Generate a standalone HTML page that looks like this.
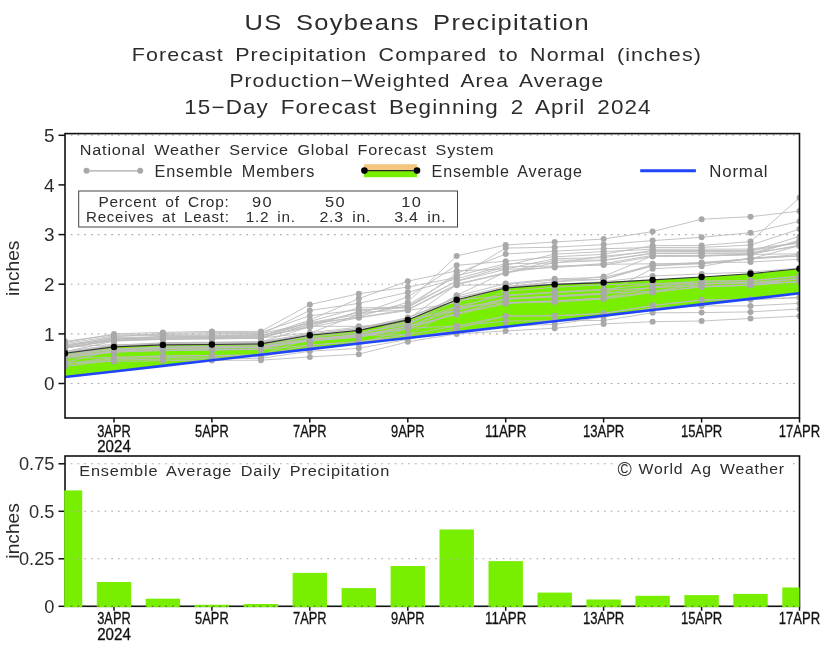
<!DOCTYPE html>
<html lang="en"><head><meta charset="utf-8"><title>US Soybeans Precipitation</title>
<style>html,body{margin:0;padding:0;background:#fff}svg{display:block}</style></head>
<body>
<svg width="830" height="648" viewBox="0 0 830 648">
<rect width="830" height="648" fill="#fff"/>
<polygon fill="#78ee00" points="65.0,353.2 114.0,346.9 162.9,344.9 211.9,344.5 260.9,343.9 309.8,335.2 358.8,330.4 407.8,319.9 456.7,299.8 505.7,288.0 554.7,284.4 603.6,282.6 652.6,279.9 701.6,277.0 750.5,273.7 799.5,268.8 799.5,293.3 750.5,298.9 701.6,304.4 652.6,310.0 603.6,315.6 554.7,321.2 505.7,326.8 456.7,332.4 407.8,338.0 358.8,343.5 309.8,349.1 260.9,354.7 211.9,360.3 162.9,365.9 114.0,371.5 65.0,377.0"/>
<g stroke="#adadad" stroke-width="1.1" stroke-dasharray="1.8 4.95" fill="none">
<path d="M70.7 383.5H798.5"/>
<path d="M70.7 333.9H798.5"/>
<path d="M70.7 284.2H798.5"/>
<path d="M70.7 234.6H798.5"/>
<path d="M70.7 135.3H798.5"/>
</g>
<g stroke="#bcbcbc" stroke-width="0.9" fill="none">
<polyline points="65.0,362.4 114.0,350.2 162.9,346.8 211.9,346.3 260.9,345.8 309.8,340.8 358.8,335.7 407.8,334.6 456.7,325.9 505.7,316.0 554.7,315.9 603.6,313.5 652.6,305.6 701.6,300.1 750.5,299.3 799.5,297.3"/>
<polyline points="65.0,352.2 114.0,350.2 162.9,348.3 211.9,348.2 260.9,347.3 309.8,339.8 358.8,334.4 407.8,320.8 456.7,296.2 505.7,283.6 554.7,278.8 603.6,277.4 652.6,265.7 701.6,262.9 750.5,262.0 799.5,259.2"/>
<polyline points="65.0,362.5 114.0,361.4 162.9,360.7 211.9,360.4 260.9,360.2 309.8,356.9 358.8,354.2 407.8,341.8 456.7,333.9 505.7,330.9 554.7,328.2 603.6,323.9 652.6,321.7 701.6,321.0 750.5,318.5 799.5,316.0"/>
<polyline points="65.0,348.2 114.0,339.7 162.9,339.2 211.9,338.5 260.9,338.0 309.8,332.8 358.8,327.1 407.8,319.4 456.7,310.4 505.7,298.6 554.7,296.0 603.6,293.2 652.6,291.4 701.6,284.0 750.5,282.6 799.5,278.4"/>
<polyline points="65.0,344.9 114.0,337.8 162.9,336.8 211.9,336.3 260.9,336.3 309.8,320.1 358.8,298.5 407.8,281.2 456.7,270.8 505.7,269.0 554.7,258.7 603.6,257.7 652.6,250.6 701.6,250.5 750.5,250.4 799.5,243.0"/>
<polyline points="65.0,366.6 114.0,360.1 162.9,359.1 211.9,358.8 260.9,358.4 309.8,351.2 358.8,348.3 407.8,339.4 456.7,328.6 505.7,315.9 554.7,315.8 603.6,313.3 652.6,305.5 701.6,299.8 750.5,299.7 799.5,297.7"/>
<polyline points="65.0,352.8 114.0,345.4 162.9,343.5 211.9,343.1 260.9,342.6 309.8,334.4 358.8,328.4 407.8,317.5 456.7,297.8 505.7,288.5 554.7,281.9 603.6,279.3 652.6,264.5 701.6,262.4 750.5,258.9 799.5,245.6"/>
<polyline points="65.0,343.7 114.0,335.9 162.9,335.5 211.9,335.0 260.9,334.5 309.8,310.5 358.8,303.4 407.8,292.3 456.7,278.8 505.7,265.4 554.7,254.1 603.6,251.6 652.6,249.3 701.6,249.2 750.5,249.1 799.5,242.7"/>
<polyline points="65.0,346.1 114.0,336.9 162.9,333.4 211.9,332.6 260.9,332.4 309.8,315.8 358.8,309.8 407.8,307.7 456.7,273.4 505.7,254.0 554.7,251.2 603.6,248.7 652.6,247.5 701.6,247.4 750.5,245.1 799.5,229.1"/>
<polyline points="65.0,357.7 114.0,352.3 162.9,350.1 211.9,349.6 260.9,349.1 309.8,339.6 358.8,334.1 407.8,322.7 456.7,306.4 505.7,295.2 554.7,291.9 603.6,289.3 652.6,284.3 701.6,283.4 750.5,282.6 799.5,279.0"/>
<polyline points="65.0,347.2 114.0,344.5 162.9,344.3 211.9,343.8 260.9,343.3 309.8,337.1 358.8,332.5 407.8,324.9 456.7,300.0 505.7,295.8 554.7,292.7 603.6,290.0 652.6,288.1 701.6,283.4 750.5,283.1 799.5,282.1"/>
<polyline points="65.0,341.3 114.0,334.9 162.9,334.5 211.9,333.8 260.9,333.5 309.8,323.3 358.8,317.3 407.8,309.6 456.7,284.0 505.7,272.7 554.7,260.2 603.6,260.1 652.6,253.2 701.6,253.1 750.5,253.0 799.5,241.1"/>
<polyline points="65.0,356.5 114.0,350.5 162.9,350.1 211.9,350.1 260.9,349.6 309.8,345.1 358.8,341.6 407.8,334.6 456.7,309.6 505.7,291.3 554.7,287.2 603.6,284.8 652.6,283.7 701.6,281.4 750.5,281.0 799.5,276.4"/>
<polyline points="65.0,365.2 114.0,358.8 162.9,357.5 211.9,357.1 260.9,356.7 309.8,347.4 358.8,344.2 407.8,328.3 456.7,326.0 505.7,321.0 554.7,320.7 603.6,320.5 652.6,312.8 701.6,312.6 750.5,311.9 799.5,309.0"/>
<polyline points="65.0,352.2 114.0,346.2 162.9,345.1 211.9,344.7 260.9,344.2 309.8,339.6 358.8,336.9 407.8,328.2 456.7,313.3 505.7,302.7 554.7,302.1 603.6,299.1 652.6,292.6 701.6,286.4 750.5,285.5 799.5,281.4"/>
<polyline points="65.0,358.0 114.0,357.5 162.9,356.0 211.9,355.5 260.9,355.0 309.8,345.1 358.8,341.6 407.8,336.9 456.7,331.3 505.7,326.0 554.7,324.4 603.6,317.0 652.6,307.8 701.6,305.9 750.5,305.9 799.5,303.3"/>
<polyline points="65.0,355.2 114.0,349.0 162.9,348.3 211.9,347.8 260.9,347.7 309.8,340.9 358.8,337.2 407.8,328.7 456.7,313.5 505.7,299.4 554.7,297.0 603.6,294.2 652.6,268.7 701.6,266.3 750.5,258.1 799.5,255.8"/>
<polyline points="65.0,346.5 114.0,338.4 162.9,338.0 211.9,337.6 260.9,337.0 309.8,326.3 358.8,326.3 407.8,324.6 456.7,295.3 505.7,272.1 554.7,266.8 603.6,263.6 652.6,255.4 701.6,255.3 750.5,254.3 799.5,245.1"/>
<polyline points="65.0,348.4 114.0,338.8 162.9,338.1 211.9,337.5 260.9,337.1 309.8,327.0 358.8,317.8 407.8,310.5 456.7,302.7 505.7,286.5 554.7,281.8 603.6,276.4 652.6,255.9 701.6,255.8 750.5,254.8 799.5,240.1"/>
<polyline points="65.0,351.7 114.0,341.1 162.9,339.4 211.9,338.7 260.9,338.4 309.8,324.5 358.8,312.4 407.8,310.0 456.7,285.3 505.7,284.6 554.7,279.9 603.6,279.5 652.6,265.9 701.6,263.7 750.5,259.0 799.5,255.9"/>
<polyline points="65.0,348.0 114.0,340.6 162.9,339.0 211.9,338.9 260.9,338.2 309.8,321.5 358.8,307.8 407.8,307.5 456.7,280.9 505.7,266.8 554.7,266.1 603.6,265.1 652.6,256.4 701.6,256.3 750.5,254.5 799.5,253.8"/>
<polyline points="65.0,356.2 114.0,348.7 162.9,347.1 211.9,346.6 260.9,346.1 309.8,341.2 358.8,336.8 407.8,326.3 456.7,309.6 505.7,298.6 554.7,296.0 603.6,293.3 652.6,287.2 701.6,286.3 750.5,284.9 799.5,281.3"/>
<polyline points="65.0,342.5 114.0,333.9 162.9,332.4 211.9,331.4 260.9,331.4 309.8,304.6 358.8,293.7 407.8,287.1 456.7,277.5 505.7,248.1 554.7,247.2 603.6,244.6 652.6,240.6 701.6,237.3 750.5,232.7 799.5,221.3"/>
<polyline points="65.0,345.6 114.0,339.6 162.9,336.2 211.9,335.7 260.9,335.3 309.8,324.7 358.8,316.8 407.8,302.2 456.7,255.9 505.7,245.0 554.7,242.0 603.6,239.0 652.6,231.6 701.6,219.2 750.5,216.7 799.5,211.1"/>
<polyline points="65.0,355.0 114.0,347.1 162.9,343.0 211.9,342.5 260.9,341.7 309.8,333.4 358.8,314.2 407.8,296.9 456.7,265.3 505.7,261.2 554.7,256.8 603.6,254.3 652.6,245.6 701.6,245.5 750.5,241.5 799.5,197.8"/>
<polyline points="65.0,363.8 114.0,357.4 162.9,355.9 211.9,355.4 260.9,355.0 309.8,338.5 358.8,335.4 407.8,326.7 456.7,307.0 505.7,302.6 554.7,300.8 603.6,297.9 652.6,287.2 701.6,280.9 750.5,280.6 799.5,276.0"/>
<polyline points="65.0,353.6 114.0,345.5 162.9,342.7 211.9,342.2 260.9,342.0 309.8,326.7 358.8,311.3 407.8,305.0 456.7,275.8 505.7,263.7 554.7,263.0 603.6,256.2 652.6,251.6 701.6,251.5 750.5,251.4 799.5,236.4"/>
<polyline points="65.0,357.6 114.0,351.9 162.9,350.6 211.9,349.7 260.9,349.2 309.8,338.7 358.8,335.4 407.8,326.3 456.7,314.4 505.7,303.7 554.7,301.0 603.6,298.1 652.6,291.6 701.6,287.1 750.5,285.0 799.5,278.4"/>
<polyline points="65.0,356.2 114.0,351.8 162.9,348.7 211.9,347.8 260.9,347.3 309.8,335.6 358.8,330.3 407.8,318.1 456.7,298.0 505.7,286.3 554.7,284.2 603.6,281.7 652.6,276.0 701.6,273.9 750.5,272.1 799.5,268.0"/>
<polyline points="65.0,351.4 114.0,344.9 162.9,343.6 211.9,343.0 260.9,342.6 309.8,334.3 358.8,328.6 407.8,319.3 456.7,284.6 505.7,273.4 554.7,262.6 603.6,260.5 652.6,253.4 701.6,253.3 750.5,253.2 799.5,246.1"/>
<polyline points="65.0,347.1 114.0,340.9 162.9,337.3 211.9,336.8 260.9,335.8 309.8,322.5 358.8,314.5 407.8,306.0 456.7,281.3 505.7,269.3 554.7,267.5 603.6,264.3 652.6,263.8 701.6,263.7 750.5,258.4 799.5,254.5"/>
</g>
<g fill="#a9a9a9">
<circle cx="65.0" cy="362.4" r="3"/>
<circle cx="114.0" cy="350.2" r="3"/>
<circle cx="162.9" cy="346.8" r="3"/>
<circle cx="211.9" cy="346.3" r="3"/>
<circle cx="260.9" cy="345.8" r="3"/>
<circle cx="309.8" cy="340.8" r="3"/>
<circle cx="358.8" cy="335.7" r="3"/>
<circle cx="407.8" cy="334.6" r="3"/>
<circle cx="456.7" cy="325.9" r="3"/>
<circle cx="505.7" cy="316.0" r="3"/>
<circle cx="554.7" cy="315.9" r="3"/>
<circle cx="603.6" cy="313.5" r="3"/>
<circle cx="652.6" cy="305.6" r="3"/>
<circle cx="701.6" cy="300.1" r="3"/>
<circle cx="750.5" cy="299.3" r="3"/>
<circle cx="799.5" cy="297.3" r="3"/>
<circle cx="65.0" cy="352.2" r="3"/>
<circle cx="114.0" cy="350.2" r="3"/>
<circle cx="162.9" cy="348.3" r="3"/>
<circle cx="211.9" cy="348.2" r="3"/>
<circle cx="260.9" cy="347.3" r="3"/>
<circle cx="309.8" cy="339.8" r="3"/>
<circle cx="358.8" cy="334.4" r="3"/>
<circle cx="407.8" cy="320.8" r="3"/>
<circle cx="456.7" cy="296.2" r="3"/>
<circle cx="505.7" cy="283.6" r="3"/>
<circle cx="554.7" cy="278.8" r="3"/>
<circle cx="603.6" cy="277.4" r="3"/>
<circle cx="652.6" cy="265.7" r="3"/>
<circle cx="701.6" cy="262.9" r="3"/>
<circle cx="750.5" cy="262.0" r="3"/>
<circle cx="799.5" cy="259.2" r="3"/>
<circle cx="65.0" cy="362.5" r="3"/>
<circle cx="114.0" cy="361.4" r="3"/>
<circle cx="162.9" cy="360.7" r="3"/>
<circle cx="211.9" cy="360.4" r="3"/>
<circle cx="260.9" cy="360.2" r="3"/>
<circle cx="309.8" cy="356.9" r="3"/>
<circle cx="358.8" cy="354.2" r="3"/>
<circle cx="407.8" cy="341.8" r="3"/>
<circle cx="456.7" cy="333.9" r="3"/>
<circle cx="505.7" cy="330.9" r="3"/>
<circle cx="554.7" cy="328.2" r="3"/>
<circle cx="603.6" cy="323.9" r="3"/>
<circle cx="652.6" cy="321.7" r="3"/>
<circle cx="701.6" cy="321.0" r="3"/>
<circle cx="750.5" cy="318.5" r="3"/>
<circle cx="799.5" cy="316.0" r="3"/>
<circle cx="65.0" cy="348.2" r="3"/>
<circle cx="114.0" cy="339.7" r="3"/>
<circle cx="162.9" cy="339.2" r="3"/>
<circle cx="211.9" cy="338.5" r="3"/>
<circle cx="260.9" cy="338.0" r="3"/>
<circle cx="309.8" cy="332.8" r="3"/>
<circle cx="358.8" cy="327.1" r="3"/>
<circle cx="407.8" cy="319.4" r="3"/>
<circle cx="456.7" cy="310.4" r="3"/>
<circle cx="505.7" cy="298.6" r="3"/>
<circle cx="554.7" cy="296.0" r="3"/>
<circle cx="603.6" cy="293.2" r="3"/>
<circle cx="652.6" cy="291.4" r="3"/>
<circle cx="701.6" cy="284.0" r="3"/>
<circle cx="750.5" cy="282.6" r="3"/>
<circle cx="799.5" cy="278.4" r="3"/>
<circle cx="65.0" cy="344.9" r="3"/>
<circle cx="114.0" cy="337.8" r="3"/>
<circle cx="162.9" cy="336.8" r="3"/>
<circle cx="211.9" cy="336.3" r="3"/>
<circle cx="260.9" cy="336.3" r="3"/>
<circle cx="309.8" cy="320.1" r="3"/>
<circle cx="358.8" cy="298.5" r="3"/>
<circle cx="407.8" cy="281.2" r="3"/>
<circle cx="456.7" cy="270.8" r="3"/>
<circle cx="505.7" cy="269.0" r="3"/>
<circle cx="554.7" cy="258.7" r="3"/>
<circle cx="603.6" cy="257.7" r="3"/>
<circle cx="652.6" cy="250.6" r="3"/>
<circle cx="701.6" cy="250.5" r="3"/>
<circle cx="750.5" cy="250.4" r="3"/>
<circle cx="799.5" cy="243.0" r="3"/>
<circle cx="65.0" cy="366.6" r="3"/>
<circle cx="114.0" cy="360.1" r="3"/>
<circle cx="162.9" cy="359.1" r="3"/>
<circle cx="211.9" cy="358.8" r="3"/>
<circle cx="260.9" cy="358.4" r="3"/>
<circle cx="309.8" cy="351.2" r="3"/>
<circle cx="358.8" cy="348.3" r="3"/>
<circle cx="407.8" cy="339.4" r="3"/>
<circle cx="456.7" cy="328.6" r="3"/>
<circle cx="505.7" cy="315.9" r="3"/>
<circle cx="554.7" cy="315.8" r="3"/>
<circle cx="603.6" cy="313.3" r="3"/>
<circle cx="652.6" cy="305.5" r="3"/>
<circle cx="701.6" cy="299.8" r="3"/>
<circle cx="750.5" cy="299.7" r="3"/>
<circle cx="799.5" cy="297.7" r="3"/>
<circle cx="65.0" cy="352.8" r="3"/>
<circle cx="114.0" cy="345.4" r="3"/>
<circle cx="162.9" cy="343.5" r="3"/>
<circle cx="211.9" cy="343.1" r="3"/>
<circle cx="260.9" cy="342.6" r="3"/>
<circle cx="309.8" cy="334.4" r="3"/>
<circle cx="358.8" cy="328.4" r="3"/>
<circle cx="407.8" cy="317.5" r="3"/>
<circle cx="456.7" cy="297.8" r="3"/>
<circle cx="505.7" cy="288.5" r="3"/>
<circle cx="554.7" cy="281.9" r="3"/>
<circle cx="603.6" cy="279.3" r="3"/>
<circle cx="652.6" cy="264.5" r="3"/>
<circle cx="701.6" cy="262.4" r="3"/>
<circle cx="750.5" cy="258.9" r="3"/>
<circle cx="799.5" cy="245.6" r="3"/>
<circle cx="65.0" cy="343.7" r="3"/>
<circle cx="114.0" cy="335.9" r="3"/>
<circle cx="162.9" cy="335.5" r="3"/>
<circle cx="211.9" cy="335.0" r="3"/>
<circle cx="260.9" cy="334.5" r="3"/>
<circle cx="309.8" cy="310.5" r="3"/>
<circle cx="358.8" cy="303.4" r="3"/>
<circle cx="407.8" cy="292.3" r="3"/>
<circle cx="456.7" cy="278.8" r="3"/>
<circle cx="505.7" cy="265.4" r="3"/>
<circle cx="554.7" cy="254.1" r="3"/>
<circle cx="603.6" cy="251.6" r="3"/>
<circle cx="652.6" cy="249.3" r="3"/>
<circle cx="701.6" cy="249.2" r="3"/>
<circle cx="750.5" cy="249.1" r="3"/>
<circle cx="799.5" cy="242.7" r="3"/>
<circle cx="65.0" cy="346.1" r="3"/>
<circle cx="114.0" cy="336.9" r="3"/>
<circle cx="162.9" cy="333.4" r="3"/>
<circle cx="211.9" cy="332.6" r="3"/>
<circle cx="260.9" cy="332.4" r="3"/>
<circle cx="309.8" cy="315.8" r="3"/>
<circle cx="358.8" cy="309.8" r="3"/>
<circle cx="407.8" cy="307.7" r="3"/>
<circle cx="456.7" cy="273.4" r="3"/>
<circle cx="505.7" cy="254.0" r="3"/>
<circle cx="554.7" cy="251.2" r="3"/>
<circle cx="603.6" cy="248.7" r="3"/>
<circle cx="652.6" cy="247.5" r="3"/>
<circle cx="701.6" cy="247.4" r="3"/>
<circle cx="750.5" cy="245.1" r="3"/>
<circle cx="799.5" cy="229.1" r="3"/>
<circle cx="65.0" cy="357.7" r="3"/>
<circle cx="114.0" cy="352.3" r="3"/>
<circle cx="162.9" cy="350.1" r="3"/>
<circle cx="211.9" cy="349.6" r="3"/>
<circle cx="260.9" cy="349.1" r="3"/>
<circle cx="309.8" cy="339.6" r="3"/>
<circle cx="358.8" cy="334.1" r="3"/>
<circle cx="407.8" cy="322.7" r="3"/>
<circle cx="456.7" cy="306.4" r="3"/>
<circle cx="505.7" cy="295.2" r="3"/>
<circle cx="554.7" cy="291.9" r="3"/>
<circle cx="603.6" cy="289.3" r="3"/>
<circle cx="652.6" cy="284.3" r="3"/>
<circle cx="701.6" cy="283.4" r="3"/>
<circle cx="750.5" cy="282.6" r="3"/>
<circle cx="799.5" cy="279.0" r="3"/>
<circle cx="65.0" cy="347.2" r="3"/>
<circle cx="114.0" cy="344.5" r="3"/>
<circle cx="162.9" cy="344.3" r="3"/>
<circle cx="211.9" cy="343.8" r="3"/>
<circle cx="260.9" cy="343.3" r="3"/>
<circle cx="309.8" cy="337.1" r="3"/>
<circle cx="358.8" cy="332.5" r="3"/>
<circle cx="407.8" cy="324.9" r="3"/>
<circle cx="456.7" cy="300.0" r="3"/>
<circle cx="505.7" cy="295.8" r="3"/>
<circle cx="554.7" cy="292.7" r="3"/>
<circle cx="603.6" cy="290.0" r="3"/>
<circle cx="652.6" cy="288.1" r="3"/>
<circle cx="701.6" cy="283.4" r="3"/>
<circle cx="750.5" cy="283.1" r="3"/>
<circle cx="799.5" cy="282.1" r="3"/>
<circle cx="65.0" cy="341.3" r="3"/>
<circle cx="114.0" cy="334.9" r="3"/>
<circle cx="162.9" cy="334.5" r="3"/>
<circle cx="211.9" cy="333.8" r="3"/>
<circle cx="260.9" cy="333.5" r="3"/>
<circle cx="309.8" cy="323.3" r="3"/>
<circle cx="358.8" cy="317.3" r="3"/>
<circle cx="407.8" cy="309.6" r="3"/>
<circle cx="456.7" cy="284.0" r="3"/>
<circle cx="505.7" cy="272.7" r="3"/>
<circle cx="554.7" cy="260.2" r="3"/>
<circle cx="603.6" cy="260.1" r="3"/>
<circle cx="652.6" cy="253.2" r="3"/>
<circle cx="701.6" cy="253.1" r="3"/>
<circle cx="750.5" cy="253.0" r="3"/>
<circle cx="799.5" cy="241.1" r="3"/>
<circle cx="65.0" cy="356.5" r="3"/>
<circle cx="114.0" cy="350.5" r="3"/>
<circle cx="162.9" cy="350.1" r="3"/>
<circle cx="211.9" cy="350.1" r="3"/>
<circle cx="260.9" cy="349.6" r="3"/>
<circle cx="309.8" cy="345.1" r="3"/>
<circle cx="358.8" cy="341.6" r="3"/>
<circle cx="407.8" cy="334.6" r="3"/>
<circle cx="456.7" cy="309.6" r="3"/>
<circle cx="505.7" cy="291.3" r="3"/>
<circle cx="554.7" cy="287.2" r="3"/>
<circle cx="603.6" cy="284.8" r="3"/>
<circle cx="652.6" cy="283.7" r="3"/>
<circle cx="701.6" cy="281.4" r="3"/>
<circle cx="750.5" cy="281.0" r="3"/>
<circle cx="799.5" cy="276.4" r="3"/>
<circle cx="65.0" cy="365.2" r="3"/>
<circle cx="114.0" cy="358.8" r="3"/>
<circle cx="162.9" cy="357.5" r="3"/>
<circle cx="211.9" cy="357.1" r="3"/>
<circle cx="260.9" cy="356.7" r="3"/>
<circle cx="309.8" cy="347.4" r="3"/>
<circle cx="358.8" cy="344.2" r="3"/>
<circle cx="407.8" cy="328.3" r="3"/>
<circle cx="456.7" cy="326.0" r="3"/>
<circle cx="505.7" cy="321.0" r="3"/>
<circle cx="554.7" cy="320.7" r="3"/>
<circle cx="603.6" cy="320.5" r="3"/>
<circle cx="652.6" cy="312.8" r="3"/>
<circle cx="701.6" cy="312.6" r="3"/>
<circle cx="750.5" cy="311.9" r="3"/>
<circle cx="799.5" cy="309.0" r="3"/>
<circle cx="65.0" cy="352.2" r="3"/>
<circle cx="114.0" cy="346.2" r="3"/>
<circle cx="162.9" cy="345.1" r="3"/>
<circle cx="211.9" cy="344.7" r="3"/>
<circle cx="260.9" cy="344.2" r="3"/>
<circle cx="309.8" cy="339.6" r="3"/>
<circle cx="358.8" cy="336.9" r="3"/>
<circle cx="407.8" cy="328.2" r="3"/>
<circle cx="456.7" cy="313.3" r="3"/>
<circle cx="505.7" cy="302.7" r="3"/>
<circle cx="554.7" cy="302.1" r="3"/>
<circle cx="603.6" cy="299.1" r="3"/>
<circle cx="652.6" cy="292.6" r="3"/>
<circle cx="701.6" cy="286.4" r="3"/>
<circle cx="750.5" cy="285.5" r="3"/>
<circle cx="799.5" cy="281.4" r="3"/>
<circle cx="65.0" cy="358.0" r="3"/>
<circle cx="114.0" cy="357.5" r="3"/>
<circle cx="162.9" cy="356.0" r="3"/>
<circle cx="211.9" cy="355.5" r="3"/>
<circle cx="260.9" cy="355.0" r="3"/>
<circle cx="309.8" cy="345.1" r="3"/>
<circle cx="358.8" cy="341.6" r="3"/>
<circle cx="407.8" cy="336.9" r="3"/>
<circle cx="456.7" cy="331.3" r="3"/>
<circle cx="505.7" cy="326.0" r="3"/>
<circle cx="554.7" cy="324.4" r="3"/>
<circle cx="603.6" cy="317.0" r="3"/>
<circle cx="652.6" cy="307.8" r="3"/>
<circle cx="701.6" cy="305.9" r="3"/>
<circle cx="750.5" cy="305.9" r="3"/>
<circle cx="799.5" cy="303.3" r="3"/>
<circle cx="65.0" cy="355.2" r="3"/>
<circle cx="114.0" cy="349.0" r="3"/>
<circle cx="162.9" cy="348.3" r="3"/>
<circle cx="211.9" cy="347.8" r="3"/>
<circle cx="260.9" cy="347.7" r="3"/>
<circle cx="309.8" cy="340.9" r="3"/>
<circle cx="358.8" cy="337.2" r="3"/>
<circle cx="407.8" cy="328.7" r="3"/>
<circle cx="456.7" cy="313.5" r="3"/>
<circle cx="505.7" cy="299.4" r="3"/>
<circle cx="554.7" cy="297.0" r="3"/>
<circle cx="603.6" cy="294.2" r="3"/>
<circle cx="652.6" cy="268.7" r="3"/>
<circle cx="701.6" cy="266.3" r="3"/>
<circle cx="750.5" cy="258.1" r="3"/>
<circle cx="799.5" cy="255.8" r="3"/>
<circle cx="65.0" cy="346.5" r="3"/>
<circle cx="114.0" cy="338.4" r="3"/>
<circle cx="162.9" cy="338.0" r="3"/>
<circle cx="211.9" cy="337.6" r="3"/>
<circle cx="260.9" cy="337.0" r="3"/>
<circle cx="309.8" cy="326.3" r="3"/>
<circle cx="358.8" cy="326.3" r="3"/>
<circle cx="407.8" cy="324.6" r="3"/>
<circle cx="456.7" cy="295.3" r="3"/>
<circle cx="505.7" cy="272.1" r="3"/>
<circle cx="554.7" cy="266.8" r="3"/>
<circle cx="603.6" cy="263.6" r="3"/>
<circle cx="652.6" cy="255.4" r="3"/>
<circle cx="701.6" cy="255.3" r="3"/>
<circle cx="750.5" cy="254.3" r="3"/>
<circle cx="799.5" cy="245.1" r="3"/>
<circle cx="65.0" cy="348.4" r="3"/>
<circle cx="114.0" cy="338.8" r="3"/>
<circle cx="162.9" cy="338.1" r="3"/>
<circle cx="211.9" cy="337.5" r="3"/>
<circle cx="260.9" cy="337.1" r="3"/>
<circle cx="309.8" cy="327.0" r="3"/>
<circle cx="358.8" cy="317.8" r="3"/>
<circle cx="407.8" cy="310.5" r="3"/>
<circle cx="456.7" cy="302.7" r="3"/>
<circle cx="505.7" cy="286.5" r="3"/>
<circle cx="554.7" cy="281.8" r="3"/>
<circle cx="603.6" cy="276.4" r="3"/>
<circle cx="652.6" cy="255.9" r="3"/>
<circle cx="701.6" cy="255.8" r="3"/>
<circle cx="750.5" cy="254.8" r="3"/>
<circle cx="799.5" cy="240.1" r="3"/>
<circle cx="65.0" cy="351.7" r="3"/>
<circle cx="114.0" cy="341.1" r="3"/>
<circle cx="162.9" cy="339.4" r="3"/>
<circle cx="211.9" cy="338.7" r="3"/>
<circle cx="260.9" cy="338.4" r="3"/>
<circle cx="309.8" cy="324.5" r="3"/>
<circle cx="358.8" cy="312.4" r="3"/>
<circle cx="407.8" cy="310.0" r="3"/>
<circle cx="456.7" cy="285.3" r="3"/>
<circle cx="505.7" cy="284.6" r="3"/>
<circle cx="554.7" cy="279.9" r="3"/>
<circle cx="603.6" cy="279.5" r="3"/>
<circle cx="652.6" cy="265.9" r="3"/>
<circle cx="701.6" cy="263.7" r="3"/>
<circle cx="750.5" cy="259.0" r="3"/>
<circle cx="799.5" cy="255.9" r="3"/>
<circle cx="65.0" cy="348.0" r="3"/>
<circle cx="114.0" cy="340.6" r="3"/>
<circle cx="162.9" cy="339.0" r="3"/>
<circle cx="211.9" cy="338.9" r="3"/>
<circle cx="260.9" cy="338.2" r="3"/>
<circle cx="309.8" cy="321.5" r="3"/>
<circle cx="358.8" cy="307.8" r="3"/>
<circle cx="407.8" cy="307.5" r="3"/>
<circle cx="456.7" cy="280.9" r="3"/>
<circle cx="505.7" cy="266.8" r="3"/>
<circle cx="554.7" cy="266.1" r="3"/>
<circle cx="603.6" cy="265.1" r="3"/>
<circle cx="652.6" cy="256.4" r="3"/>
<circle cx="701.6" cy="256.3" r="3"/>
<circle cx="750.5" cy="254.5" r="3"/>
<circle cx="799.5" cy="253.8" r="3"/>
<circle cx="65.0" cy="356.2" r="3"/>
<circle cx="114.0" cy="348.7" r="3"/>
<circle cx="162.9" cy="347.1" r="3"/>
<circle cx="211.9" cy="346.6" r="3"/>
<circle cx="260.9" cy="346.1" r="3"/>
<circle cx="309.8" cy="341.2" r="3"/>
<circle cx="358.8" cy="336.8" r="3"/>
<circle cx="407.8" cy="326.3" r="3"/>
<circle cx="456.7" cy="309.6" r="3"/>
<circle cx="505.7" cy="298.6" r="3"/>
<circle cx="554.7" cy="296.0" r="3"/>
<circle cx="603.6" cy="293.3" r="3"/>
<circle cx="652.6" cy="287.2" r="3"/>
<circle cx="701.6" cy="286.3" r="3"/>
<circle cx="750.5" cy="284.9" r="3"/>
<circle cx="799.5" cy="281.3" r="3"/>
<circle cx="65.0" cy="342.5" r="3"/>
<circle cx="114.0" cy="333.9" r="3"/>
<circle cx="162.9" cy="332.4" r="3"/>
<circle cx="211.9" cy="331.4" r="3"/>
<circle cx="260.9" cy="331.4" r="3"/>
<circle cx="309.8" cy="304.6" r="3"/>
<circle cx="358.8" cy="293.7" r="3"/>
<circle cx="407.8" cy="287.1" r="3"/>
<circle cx="456.7" cy="277.5" r="3"/>
<circle cx="505.7" cy="248.1" r="3"/>
<circle cx="554.7" cy="247.2" r="3"/>
<circle cx="603.6" cy="244.6" r="3"/>
<circle cx="652.6" cy="240.6" r="3"/>
<circle cx="701.6" cy="237.3" r="3"/>
<circle cx="750.5" cy="232.7" r="3"/>
<circle cx="799.5" cy="221.3" r="3"/>
<circle cx="65.0" cy="345.6" r="3"/>
<circle cx="114.0" cy="339.6" r="3"/>
<circle cx="162.9" cy="336.2" r="3"/>
<circle cx="211.9" cy="335.7" r="3"/>
<circle cx="260.9" cy="335.3" r="3"/>
<circle cx="309.8" cy="324.7" r="3"/>
<circle cx="358.8" cy="316.8" r="3"/>
<circle cx="407.8" cy="302.2" r="3"/>
<circle cx="456.7" cy="255.9" r="3"/>
<circle cx="505.7" cy="245.0" r="3"/>
<circle cx="554.7" cy="242.0" r="3"/>
<circle cx="603.6" cy="239.0" r="3"/>
<circle cx="652.6" cy="231.6" r="3"/>
<circle cx="701.6" cy="219.2" r="3"/>
<circle cx="750.5" cy="216.7" r="3"/>
<circle cx="799.5" cy="211.1" r="3"/>
<circle cx="65.0" cy="355.0" r="3"/>
<circle cx="114.0" cy="347.1" r="3"/>
<circle cx="162.9" cy="343.0" r="3"/>
<circle cx="211.9" cy="342.5" r="3"/>
<circle cx="260.9" cy="341.7" r="3"/>
<circle cx="309.8" cy="333.4" r="3"/>
<circle cx="358.8" cy="314.2" r="3"/>
<circle cx="407.8" cy="296.9" r="3"/>
<circle cx="456.7" cy="265.3" r="3"/>
<circle cx="505.7" cy="261.2" r="3"/>
<circle cx="554.7" cy="256.8" r="3"/>
<circle cx="603.6" cy="254.3" r="3"/>
<circle cx="652.6" cy="245.6" r="3"/>
<circle cx="701.6" cy="245.5" r="3"/>
<circle cx="750.5" cy="241.5" r="3"/>
<circle cx="799.5" cy="197.8" r="3"/>
<circle cx="65.0" cy="363.8" r="3"/>
<circle cx="114.0" cy="357.4" r="3"/>
<circle cx="162.9" cy="355.9" r="3"/>
<circle cx="211.9" cy="355.4" r="3"/>
<circle cx="260.9" cy="355.0" r="3"/>
<circle cx="309.8" cy="338.5" r="3"/>
<circle cx="358.8" cy="335.4" r="3"/>
<circle cx="407.8" cy="326.7" r="3"/>
<circle cx="456.7" cy="307.0" r="3"/>
<circle cx="505.7" cy="302.6" r="3"/>
<circle cx="554.7" cy="300.8" r="3"/>
<circle cx="603.6" cy="297.9" r="3"/>
<circle cx="652.6" cy="287.2" r="3"/>
<circle cx="701.6" cy="280.9" r="3"/>
<circle cx="750.5" cy="280.6" r="3"/>
<circle cx="799.5" cy="276.0" r="3"/>
<circle cx="65.0" cy="353.6" r="3"/>
<circle cx="114.0" cy="345.5" r="3"/>
<circle cx="162.9" cy="342.7" r="3"/>
<circle cx="211.9" cy="342.2" r="3"/>
<circle cx="260.9" cy="342.0" r="3"/>
<circle cx="309.8" cy="326.7" r="3"/>
<circle cx="358.8" cy="311.3" r="3"/>
<circle cx="407.8" cy="305.0" r="3"/>
<circle cx="456.7" cy="275.8" r="3"/>
<circle cx="505.7" cy="263.7" r="3"/>
<circle cx="554.7" cy="263.0" r="3"/>
<circle cx="603.6" cy="256.2" r="3"/>
<circle cx="652.6" cy="251.6" r="3"/>
<circle cx="701.6" cy="251.5" r="3"/>
<circle cx="750.5" cy="251.4" r="3"/>
<circle cx="799.5" cy="236.4" r="3"/>
<circle cx="65.0" cy="357.6" r="3"/>
<circle cx="114.0" cy="351.9" r="3"/>
<circle cx="162.9" cy="350.6" r="3"/>
<circle cx="211.9" cy="349.7" r="3"/>
<circle cx="260.9" cy="349.2" r="3"/>
<circle cx="309.8" cy="338.7" r="3"/>
<circle cx="358.8" cy="335.4" r="3"/>
<circle cx="407.8" cy="326.3" r="3"/>
<circle cx="456.7" cy="314.4" r="3"/>
<circle cx="505.7" cy="303.7" r="3"/>
<circle cx="554.7" cy="301.0" r="3"/>
<circle cx="603.6" cy="298.1" r="3"/>
<circle cx="652.6" cy="291.6" r="3"/>
<circle cx="701.6" cy="287.1" r="3"/>
<circle cx="750.5" cy="285.0" r="3"/>
<circle cx="799.5" cy="278.4" r="3"/>
<circle cx="65.0" cy="356.2" r="3"/>
<circle cx="114.0" cy="351.8" r="3"/>
<circle cx="162.9" cy="348.7" r="3"/>
<circle cx="211.9" cy="347.8" r="3"/>
<circle cx="260.9" cy="347.3" r="3"/>
<circle cx="309.8" cy="335.6" r="3"/>
<circle cx="358.8" cy="330.3" r="3"/>
<circle cx="407.8" cy="318.1" r="3"/>
<circle cx="456.7" cy="298.0" r="3"/>
<circle cx="505.7" cy="286.3" r="3"/>
<circle cx="554.7" cy="284.2" r="3"/>
<circle cx="603.6" cy="281.7" r="3"/>
<circle cx="652.6" cy="276.0" r="3"/>
<circle cx="701.6" cy="273.9" r="3"/>
<circle cx="750.5" cy="272.1" r="3"/>
<circle cx="799.5" cy="268.0" r="3"/>
<circle cx="65.0" cy="351.4" r="3"/>
<circle cx="114.0" cy="344.9" r="3"/>
<circle cx="162.9" cy="343.6" r="3"/>
<circle cx="211.9" cy="343.0" r="3"/>
<circle cx="260.9" cy="342.6" r="3"/>
<circle cx="309.8" cy="334.3" r="3"/>
<circle cx="358.8" cy="328.6" r="3"/>
<circle cx="407.8" cy="319.3" r="3"/>
<circle cx="456.7" cy="284.6" r="3"/>
<circle cx="505.7" cy="273.4" r="3"/>
<circle cx="554.7" cy="262.6" r="3"/>
<circle cx="603.6" cy="260.5" r="3"/>
<circle cx="652.6" cy="253.4" r="3"/>
<circle cx="701.6" cy="253.3" r="3"/>
<circle cx="750.5" cy="253.2" r="3"/>
<circle cx="799.5" cy="246.1" r="3"/>
<circle cx="65.0" cy="347.1" r="3"/>
<circle cx="114.0" cy="340.9" r="3"/>
<circle cx="162.9" cy="337.3" r="3"/>
<circle cx="211.9" cy="336.8" r="3"/>
<circle cx="260.9" cy="335.8" r="3"/>
<circle cx="309.8" cy="322.5" r="3"/>
<circle cx="358.8" cy="314.5" r="3"/>
<circle cx="407.8" cy="306.0" r="3"/>
<circle cx="456.7" cy="281.3" r="3"/>
<circle cx="505.7" cy="269.3" r="3"/>
<circle cx="554.7" cy="267.5" r="3"/>
<circle cx="603.6" cy="264.3" r="3"/>
<circle cx="652.6" cy="263.8" r="3"/>
<circle cx="701.6" cy="263.7" r="3"/>
<circle cx="750.5" cy="258.4" r="3"/>
<circle cx="799.5" cy="254.5" r="3"/>
</g>
<polyline fill="none" stroke="#2044fb" stroke-width="2.6" points="65.0,377.0 114.0,371.5 162.9,365.9 211.9,360.3 260.9,354.7 309.8,349.1 358.8,343.5 407.8,338.0 456.7,332.4 505.7,326.8 554.7,321.2 603.6,315.6 652.6,310.0 701.6,304.4 750.5,298.9 799.5,293.3"/>
<polyline fill="none" stroke="#333" stroke-width="1.1" points="65.0,353.2 114.0,346.9 162.9,344.9 211.9,344.5 260.9,343.9 309.8,335.2 358.8,330.4 407.8,319.9 456.7,299.8 505.7,288.0 554.7,284.4 603.6,282.6 652.6,279.9 701.6,277.0 750.5,273.7 799.5,268.8"/>
<g fill="#000">
<circle cx="65.0" cy="353.2" r="3.2"/>
<circle cx="114.0" cy="346.9" r="3.2"/>
<circle cx="162.9" cy="344.9" r="3.2"/>
<circle cx="211.9" cy="344.5" r="3.2"/>
<circle cx="260.9" cy="343.9" r="3.2"/>
<circle cx="309.8" cy="335.2" r="3.2"/>
<circle cx="358.8" cy="330.4" r="3.2"/>
<circle cx="407.8" cy="319.9" r="3.2"/>
<circle cx="456.7" cy="299.8" r="3.2"/>
<circle cx="505.7" cy="288.0" r="3.2"/>
<circle cx="554.7" cy="284.4" r="3.2"/>
<circle cx="603.6" cy="282.6" r="3.2"/>
<circle cx="652.6" cy="279.9" r="3.2"/>
<circle cx="701.6" cy="277.0" r="3.2"/>
<circle cx="750.5" cy="273.7" r="3.2"/>
<circle cx="799.5" cy="268.8" r="3.2"/>
</g>
<rect x="799.5" y="133.6" width="8" height="284.4" fill="#fff"/>
<rect x="57.0" y="133.6" width="8" height="284.4" fill="#fff"/>
<rect x="65.0" y="133.6" width="734.5" height="284.4" fill="none" stroke="#111" stroke-width="1.6"/>
<g stroke="#111" stroke-width="1.5">
<path d="M58.5 383.5H65.0"/>
<path d="M58.5 333.9H65.0"/>
<path d="M58.5 284.2H65.0"/>
<path d="M58.5 234.6H65.0"/>
<path d="M58.5 184.9H65.0"/>
<path d="M58.5 135.3H65.0"/>
<path d="M114.0 418.0V422.5"/>
<path d="M114.0 606.3V610.8"/>
<path d="M211.9 418.0V422.5"/>
<path d="M211.9 606.3V610.8"/>
<path d="M309.8 418.0V422.5"/>
<path d="M309.8 606.3V610.8"/>
<path d="M407.8 418.0V422.5"/>
<path d="M407.8 606.3V610.8"/>
<path d="M505.7 418.0V422.5"/>
<path d="M505.7 606.3V610.8"/>
<path d="M603.6 418.0V422.5"/>
<path d="M603.6 606.3V610.8"/>
<path d="M701.6 418.0V422.5"/>
<path d="M701.6 606.3V610.8"/>
<path d="M799.5 418.0V422.5"/>
<path d="M799.5 606.3V610.8"/>
<path d="M58.5 606.3H65.0"/>
<path d="M58.5 558.8H65.0"/>
<path d="M58.5 511.3H65.0"/>
<path d="M58.5 463.8H65.0"/>
</g>
<g font-family="'Liberation Sans', sans-serif" fill="#2c2c2c" text-anchor="end">
<text x="54.6" y="390.2" font-size="18.9">0</text>
<text x="54.6" y="340.6" font-size="18.9">1</text>
<text x="54.6" y="290.9" font-size="18.9">2</text>
<text x="54.6" y="241.3" font-size="18.9">3</text>
<text x="54.6" y="191.6" font-size="18.9">4</text>
<text x="54.6" y="142.0" font-size="18.9">5</text>
<text x="54.4" y="612.8" font-size="18.2">0</text>
<text x="54.4" y="565.3" font-size="18.2">0.25</text>
<text x="54.4" y="517.8" font-size="18.2">0.5</text>
<text x="54.4" y="470.3" font-size="18.2">0.75</text>
</g>
<g font-family="'Liberation Sans', sans-serif" font-size="16.2" text-anchor="middle" fill="#111" stroke="#111" stroke-width="0.3">
<text x="114.0" y="436.6" textLength="33.6" lengthAdjust="spacingAndGlyphs">3APR</text>
<text x="114.0" y="624.1" textLength="33.6" lengthAdjust="spacingAndGlyphs">3APR</text>
<text x="211.9" y="436.6" textLength="33.6" lengthAdjust="spacingAndGlyphs">5APR</text>
<text x="211.9" y="624.1" textLength="33.6" lengthAdjust="spacingAndGlyphs">5APR</text>
<text x="309.8" y="436.6" textLength="33.6" lengthAdjust="spacingAndGlyphs">7APR</text>
<text x="309.8" y="624.1" textLength="33.6" lengthAdjust="spacingAndGlyphs">7APR</text>
<text x="407.8" y="436.6" textLength="33.6" lengthAdjust="spacingAndGlyphs">9APR</text>
<text x="407.8" y="624.1" textLength="33.6" lengthAdjust="spacingAndGlyphs">9APR</text>
<text x="505.7" y="436.6" textLength="41.4" lengthAdjust="spacingAndGlyphs">11APR</text>
<text x="505.7" y="624.1" textLength="41.4" lengthAdjust="spacingAndGlyphs">11APR</text>
<text x="603.6" y="436.6" textLength="41.4" lengthAdjust="spacingAndGlyphs">13APR</text>
<text x="603.6" y="624.1" textLength="41.4" lengthAdjust="spacingAndGlyphs">13APR</text>
<text x="701.6" y="436.6" textLength="41.4" lengthAdjust="spacingAndGlyphs">15APR</text>
<text x="701.6" y="624.1" textLength="41.4" lengthAdjust="spacingAndGlyphs">15APR</text>
<text x="799.5" y="436.6" textLength="41.4" lengthAdjust="spacingAndGlyphs">17APR</text>
<text x="799.5" y="624.1" textLength="41.4" lengthAdjust="spacingAndGlyphs">17APR</text>
<text x="114.0" y="451.5" textLength="33.6" lengthAdjust="spacingAndGlyphs">2024</text>
<text x="114.0" y="639.6" textLength="33.6" lengthAdjust="spacingAndGlyphs">2024</text>
</g>
<g font-family="'Liberation Sans', sans-serif" fill="#2c2c2c" font-size="19.2" text-anchor="middle">
<text transform="translate(18.7,268.3) rotate(-90)">inches</text>
<text transform="translate(18.7,530.9) rotate(-90)">inches</text>
</g>
<rect x="65.0" y="456.0" width="734.5" height="150.3" fill="none" stroke="#111" stroke-width="1.6"/>
<g fill="#78ee00">
<rect x="64.2" y="490.4" width="18.0" height="116.7"/>
<rect x="96.8" y="582.0" width="34.4" height="25.1"/>
<rect x="145.7" y="598.7" width="34.4" height="8.4"/>
<rect x="194.7" y="604.8" width="34.4" height="2.3"/>
<rect x="243.7" y="604.0" width="34.4" height="3.1"/>
<rect x="292.6" y="572.9" width="34.4" height="34.2"/>
<rect x="341.6" y="588.1" width="34.4" height="19.0"/>
<rect x="390.6" y="566.0" width="34.4" height="41.1"/>
<rect x="439.5" y="529.5" width="34.4" height="77.6"/>
<rect x="488.5" y="561.1" width="34.4" height="46.0"/>
<rect x="537.5" y="592.6" width="34.4" height="14.5"/>
<rect x="586.4" y="599.5" width="34.4" height="7.6"/>
<rect x="635.4" y="595.8" width="34.4" height="11.2"/>
<rect x="684.4" y="595.1" width="34.4" height="12.0"/>
<rect x="733.3" y="593.9" width="34.4" height="13.1"/>
<rect x="782.3" y="587.5" width="17.2" height="19.6"/>
</g>
<g stroke="#adadad" stroke-width="1.1" stroke-dasharray="1.8 4.95" fill="none">
<path d="M70.7 558.8H798.5"/>
<path d="M70.7 511.3H798.5"/>
<path d="M70.7 463.8H798.5"/>
</g>
<path d="M70.7 606.3H798.5" stroke="#333" stroke-opacity="0.7" stroke-width="1.1" stroke-dasharray="1.8 4.95"/>
<rect x="78.7" y="191" width="378.8" height="36" fill="#fff" stroke="#444" stroke-width="1"/>
<g font-family="'Liberation Sans', sans-serif" fill="#2c2c2c">
<text transform="translate(244.6,30.0) scale(1.144,1)" font-size="22.3" style="letter-spacing:1.12px;word-spacing:4.46px">US Soybeans Precipitation</text>
<text transform="translate(131.8,61.4) scale(1.118,1)" font-size="19.2" style="letter-spacing:0.96px;word-spacing:3.84px">Forecast Precipitation Compared to Normal (inches)</text>
<text transform="translate(229.4,87.1) scale(1.095,1)" font-size="19.2" style="letter-spacing:0.96px;word-spacing:3.84px">Production−Weighted Area Average</text>
<text transform="translate(184.2,113.8) scale(1.123,1)" font-size="20.0" style="letter-spacing:1.00px;word-spacing:4.00px">15−Day Forecast Beginning 2 April 2024</text>
<text transform="translate(79.8,155.2) scale(1.118,1)" font-size="14.5" style="letter-spacing:0.72px;word-spacing:2.90px">National Weather Service Global Forecast System</text>
<text transform="translate(154.6,176.5) scale(1.022,1)" font-size="15.9" style="letter-spacing:0.79px;word-spacing:3.18px">Ensemble Members</text>
<text transform="translate(431.6,176.5) scale(1.014,1)" font-size="15.9" style="letter-spacing:0.80px;word-spacing:3.18px">Ensemble Average</text>
<text transform="translate(709.2,176.5) scale(1.059,1)" font-size="15.9" style="letter-spacing:0.79px;word-spacing:0.00px">Normal</text>
<text transform="translate(98.4,206.8) scale(1.106,1)" font-size="14.0" style="letter-spacing:0.70px;word-spacing:2.80px">Percent of Crop:</text>
<text transform="translate(86.0,221.6) scale(1.078,1)" font-size="14.0" style="letter-spacing:0.70px;word-spacing:2.80px">Receives at Least:</text>
<text transform="translate(262.5,206.8) scale(1.170,1)" font-size="14.0" text-anchor="middle" style="letter-spacing:1.20px">90</text>
<text transform="translate(335.4,206.8) scale(1.170,1)" font-size="14.0" text-anchor="middle" style="letter-spacing:1.20px">50</text>
<text transform="translate(411.8,206.8) scale(1.170,1)" font-size="14.0" text-anchor="middle" style="letter-spacing:1.20px">10</text>
<text transform="translate(245.7,221.6) scale(1.092,1)" font-size="14.0" style="letter-spacing:0.70px;word-spacing:2.80px">1.2 in.</text>
<text transform="translate(319.4,221.6) scale(1.132,1)" font-size="14.0" style="letter-spacing:0.70px;word-spacing:2.80px">2.3 in.</text>
<text transform="translate(394.2,221.6) scale(1.141,1)" font-size="14.0" style="letter-spacing:0.70px;word-spacing:2.80px">3.4 in.</text>
<text transform="translate(79.2,475.6) scale(1.141,1)" font-size="14.3" style="letter-spacing:0.72px;word-spacing:2.86px">Ensemble Average Daily Precipitation</text>
<rect x="614" y="460" width="176" height="18" fill="#fff"/>
<text x="617.4" y="476.3" font-size="19.4">©</text>
<text transform="translate(638.6,474.4) scale(1.103,1)" font-size="14.3" style="letter-spacing:0.71px;word-spacing:2.86px">World Ag Weather</text>
</g>
<path d="M86.5 170.8H140.2" stroke="#a9a9a9" stroke-width="1.2"/>
<circle cx="86.5" cy="170.8" r="3" fill="#a9a9a9"/><circle cx="140.2" cy="170.8" r="3" fill="#a9a9a9"/>
<rect x="364" y="164.2" width="53" height="6.4" fill="#f5c77e"/>
<rect x="364" y="170.6" width="53" height="6.6" fill="#78ee00"/>
<path d="M364.4 170.6H417" stroke="#2a2a2a" stroke-width="1.2"/>
<circle cx="364.4" cy="170.6" r="3.3" fill="#000"/><circle cx="417" cy="170.6" r="3.3" fill="#000"/>
<path d="M640.2 170.8H695.9" stroke="#2044fb" stroke-width="3"/>
</svg>
</body></html>
